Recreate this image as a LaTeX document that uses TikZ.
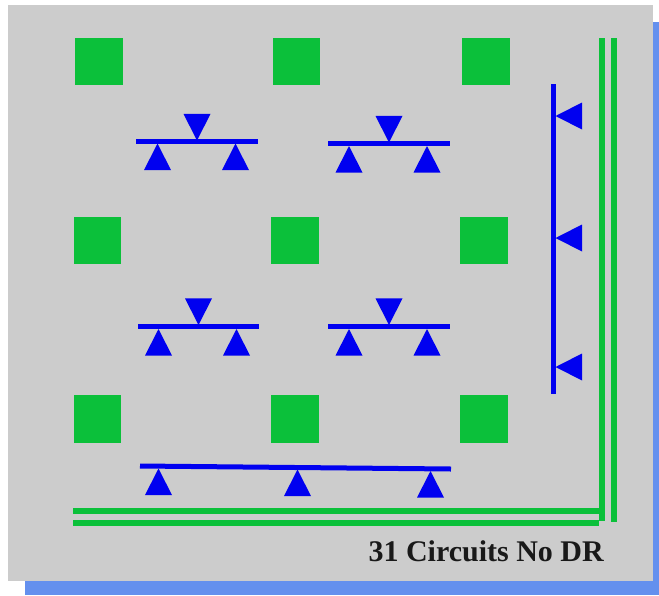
\documentclass[tikz,border=0pt]{standalone}
\usepackage{fontspec}
\setmainfont{Liberation Serif}
\usetikzlibrary{shapes.geometric}
\definecolor{padgreen}{HTML}{0BC03A}
\definecolor{busblue}{HTML}{0000F0}
\definecolor{panelgray}{HTML}{CCCCCC}
\definecolor{shadowblue}{HTML}{6490EE}

\begin{document}
\begin{tikzpicture}[x=1pt,y=-1pt]
\tikzstyle{pad}=[rectangle,fill=padgreen,minimum size=47.5pt,inner sep=0pt]
\tikzstyle{tri}=[isosceles triangle,isosceles triangle stretches,fill=busblue,inner sep=0pt,minimum height=26.5pt,minimum width=27pt,anchor=apex]
\tikzstyle{tup}=[tri,shape border rotate=90]
\tikzstyle{tdown}=[tri,shape border rotate=-90]
\tikzstyle{tleft}=[tri,shape border rotate=180]
\tikzstyle{bus}=[draw=busblue,line width=5pt]
\tikzstyle{rail}=[draw=padgreen,line width=6pt]
\useasboundingbox (0,0) rectangle (659,595);
\fill[shadowblue] (25,22) rectangle (659,595);
\fill[panelgray] (8,5) rectangle (653,581);

\node[pad](P11) at (99,61.5) {};
\node[pad](P12) at (296.5,61.5) {};
\node[pad](P13) at (486,61.5) {};
\node[pad](P21) at (97.5,240.5) {};
\node[pad](P22) at (295,240.5) {};
\node[pad](P23) at (484,240.5) {};
\node[pad](P31) at (97.5,419) {};
\node[pad](P32) at (295,419) {};
\node[pad](P33) at (484,419) {};

% top left group
\coordinate (A1) at (136,141);
\coordinate (A2) at (258,141);
\draw[bus] (A1) -- (A2);
\node[tdown](Ad) at (197,141) {};
\node[tup](Al) at (157.5,143) {};
\node[tup](Ar) at (235.5,143) {};

% top right group
\coordinate (B1) at (328,143.5);
\coordinate (B2) at (449.5,143.5);
\draw[bus] (B1) -- (B2);
\node[tdown](Bd) at (389,143) {};
\node[tup](Bl) at (349,145.5) {};
\node[tup](Br) at (427,145.5) {};

% middle left group
\coordinate (C1) at (138,326);
\coordinate (C2) at (259,326);
\draw[bus] (C1) -- (C2);
\node[tdown](Cd) at (198.5,325.5) {};
\node[tup](Cl) at (158.5,328.5) {};
\node[tup](Cr) at (236.5,328.5) {};

% middle right group
\coordinate (D1) at (328,326);
\coordinate (D2) at (449.5,326);
\draw[bus] (D1) -- (D2);
\node[tdown](Dd) at (389,325.5) {};
\node[tup](Dl) at (349,328.5) {};
\node[tup](Dr) at (427,328.5) {};

% bottom bus
\coordinate (E1) at (140,466);
\coordinate (E2) at (451,469);
\draw[bus] (E1) -- (E2);
\node[tup](El) at (158.5,468) {};
\node[tup](Em) at (297.5,469) {};
\node[tup](Er) at (430.5,470.5) {};

% right bus
\coordinate (R1) at (553.7,84);
\coordinate (R2) at (553.7,394);
\draw[bus] (R1) -- (R2);
\node[tleft](Ra) at (555,116) {};
\node[tleft](Rb) at (555,238) {};
\node[tleft](Rc) at (555,367) {};

% double rail
\coordinate (H1) at (73,510.5);
\coordinate (H2) at (600,510.5);
\coordinate (H3) at (73,522.5);
\coordinate (H4) at (598.5,522.5);
\coordinate (V1) at (601.5,38);
\coordinate (V2) at (601.5,521);
\coordinate (V3) at (613.5,38);
\coordinate (V4) at (613.5,522);
\draw[rail] (H1) -- (H2);
\draw[rail] (H3) -- (H4);
\draw[rail] (V1) -- (V2);
\draw[rail] (V3) -- (V4);

\node[anchor=base east,inner sep=0pt,font=\bfseries\fontsize{30}{34}\selectfont,text=black!90](Title) at (604,561.5) {31 Circuits No DR};
\end{tikzpicture}
\end{document}
